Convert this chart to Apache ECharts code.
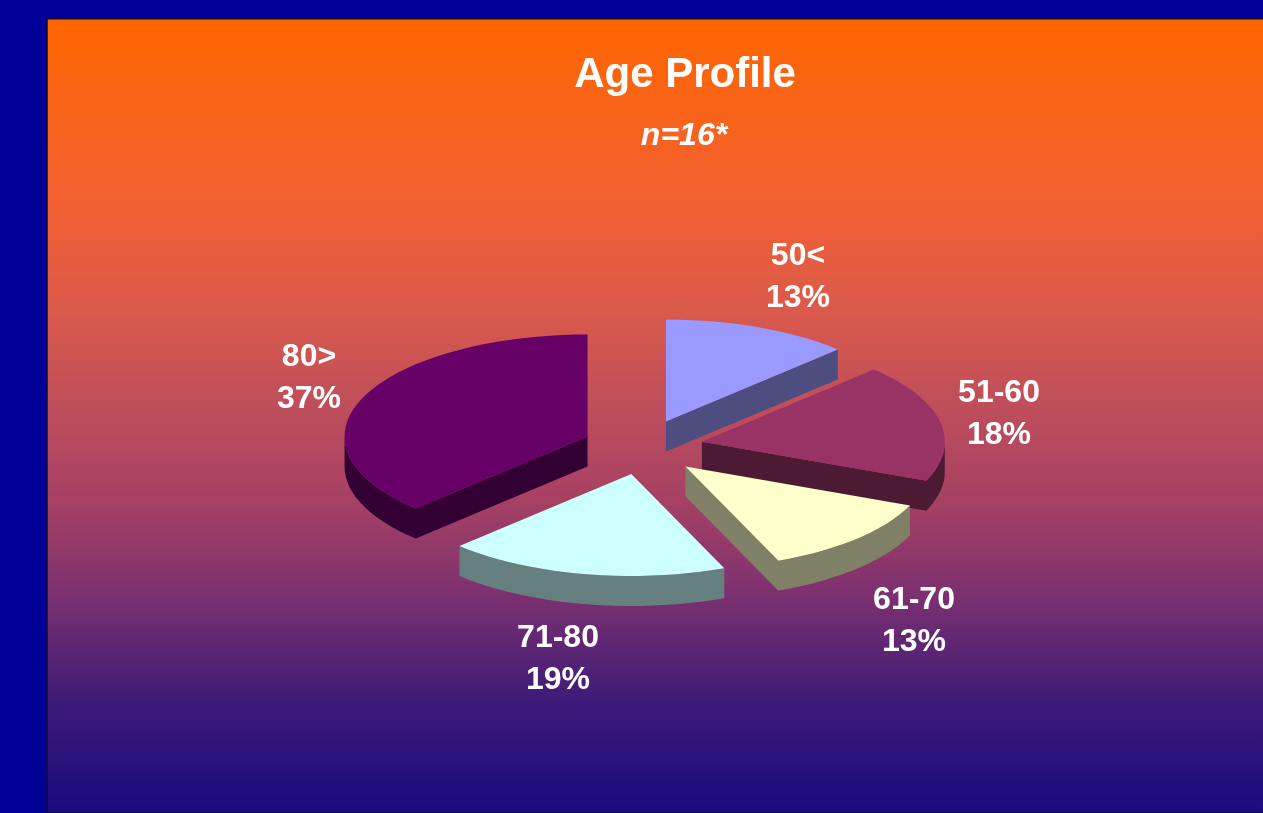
<!DOCTYPE html>
<html>
<head>
<meta charset="utf-8">
<title>Age Profile</title>
<style>
  html, body { margin: 0; padding: 0; background: #000099; overflow: hidden; }
  #chart { width: 1263px; height: 813px; }
</style>
</head>
<body>
<div id="chart"></div>
<script src="https://cdn.jsdelivr.net/npm/echarts@6/dist/echarts.min.js"></script>
<script>
// chart data: slice sizes (n=16), labels as printed
const ageGroups = ['50<', '51-60', '61-70', '71-80', '80>']
const ageCounts = [2, 3, 2, 3, 6]
const percentLabels = ['13%', '18%', '13%', '19%', '37%']

// slice colours (top face / side wall)
const topColors = ['#9999ff', '#993366', '#ffffcc', '#ccffff', '#660066']
const wallColors = ['#4d4d80', '#4d1a33', '#808066', '#668080', '#330033']

// pie layout, in pixels
const pie = { cx: 643, cy: 447, rx: 243, ry: 102, explodeX: 60, explodeY: 27.5, depth: 30 }
const labelCenters = [[798, 277], [999, 414], [914, 621], [558, 659], [309, 378]]
const fontFamily = '"Liberation Sans", Arial, sans-serif'

const total = ageCounts.reduce((a, b) => a + b, 0)
const toAngle = (v) => echarts.number.linearMap(v, [0, total], [0, Math.PI * 2])

// outline of one slice, clockwise on screen, angle 0 is 12 o'clock
const sliceOutline = (index) => {
  const before = ageCounts.slice(0, index).reduce((a, b) => a + b, 0)
  const start = toAngle(before)
  const end = toAngle(before + ageCounts[index])
  const mid = (start + end) / 2
  const ox = pie.cx + pie.explodeX * Math.sin(mid)
  const oy = pie.cy - pie.explodeY * Math.cos(mid)
  const points = [[ox, oy]]
  const steps = Math.ceil((end - start) / (Math.PI / 60))
  for (let i = 0; i <= steps; i++) {
    const a = start + (end - start) * i / steps
    points.push([ox + pie.rx * Math.sin(a), oy - pie.ry * Math.cos(a)])
  }
  return points
}

// edges running leftwards on a clockwise outline face the viewer,
// neighbouring ones are merged so the wall has no seams
const wallRuns = (outline) => {
  const runs = []
  let run = null
  outline.forEach((p, i) => {
    const q = outline[(i + 1) % outline.length]
    if (q[0] < p[0]) {
      if (!run) {
        run = [p]
        runs.push(run)
      }
      run.push(q)
    } else {
      run = null
    }
  })
  return runs
}

const renderSlice = (params, api) => {
  const index = params.dataIndex
  const outline = sliceOutline(index)
  const z2 = Math.round(outline[0][1])
  const children = []

  wallRuns(outline).forEach((run) => {
    const lower = run.map((p) => [p[0], p[1] + pie.depth]).reverse()
    children.push({
      type: 'polygon',
      z2: z2,
      shape: { points: run.concat(lower) },
      style: { fill: wallColors[index] }
    })
  })

  children.push({
    type: 'polygon',
    z2: z2 + 1,
    shape: { points: outline },
    style: { fill: topColors[index] }
  })

  children.push({
    type: 'text',
    z2: 1000,
    style: {
      x: labelCenters[index][0],
      y: labelCenters[index][1],
      text: ageGroups[index] + '\n' + percentLabels[index],
      fill: '#ffffff',
      font: 'bold 32px ' + fontFamily,
      lineHeight: 42,
      align: 'center',
      verticalAlign: 'middle'
    }
  })

  return { type: 'group', children: children }
}

const chart = echarts.init(document.getElementById('chart'))

chart.setOption({
  animation: false,
  backgroundColor: '#000099',
  title: [
    {
      text: 'Age Profile',
      left: 680,
      top: 49,
      textAlign: 'center',
      textStyle: { color: '#ffffff', fontFamily: fontFamily, fontWeight: 'bold', fontSize: 42 }
    },
    {
      text: 'n=16*',
      left: 679,
      top: 115,
      textAlign: 'center',
      textStyle: { color: '#ffffff', fontFamily: fontFamily, fontWeight: 'bold', fontStyle: 'italic', fontSize: 32 }
    }
  ],
  // orange to navy panel behind the pie
  graphic: [{
    type: 'rect',
    z: -10,
    silent: true,
    shape: { x: 47, y: 18.8, width: 1230, height: 794.2 },
    style: {
      stroke: '#0a0a40',
      lineWidth: 1.5,
      fill: new echarts.graphic.LinearGradient(0, 0, 0, 1, [
        { offset: 0, color: '#ff6600' },
        { offset: 0.23, color: '#f26032' },
        { offset: 0.36, color: '#dc5a4a' },
        { offset: 0.48, color: '#c04f5a' },
        { offset: 0.61, color: '#a54064' },
        { offset: 0.73, color: '#7a3070' },
        { offset: 0.86, color: '#3d1a78' },
        { offset: 1, color: '#1a0a80' }
      ])
    }
  }],
  series: [{
    type: 'custom',
    coordinateSystem: 'none',
    silent: true,
    renderItem: renderSlice,
    data: ageCounts
  }]
})
</script>
</body>
</html>
